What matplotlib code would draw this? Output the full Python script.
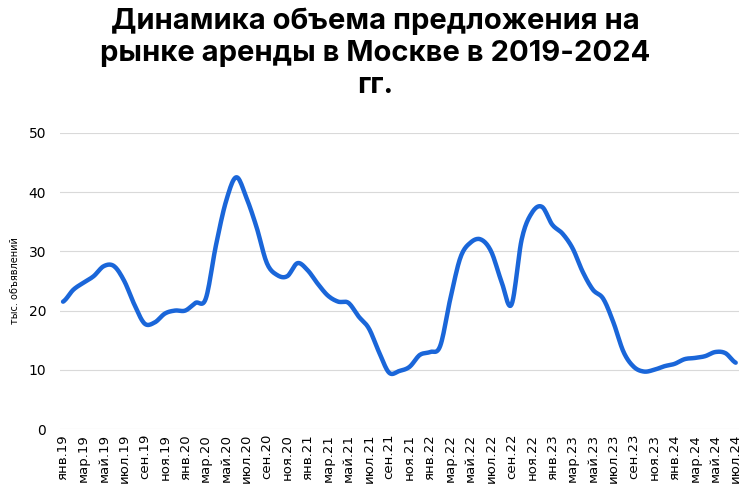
import matplotlib
matplotlib.use("Agg")
import matplotlib.pyplot as plt
import numpy as np

months = ["янв","фев","мар","апр","май","июн","июл","авг","сен","окт","ноя","дек"]
labels = [f"{m}.{y}" for y in range(19,25) for m in months][:67]
values = [21.5,23.5,24.7,25.8,27.5,27.5,25,21,17.8,18,19.5,20,
          20,21.3,22,31,38.5,42.5,39,34,28,26,25.8,28,
          26.8,24.5,22.5,21.5,21.3,19,17,13,9.5,9.8,10.5,12.5,
          13,14,22,29,31.5,32,30,25,21,32,36.5,37.5,
          34.5,33,30.5,26.5,23.5,22,18,13,10.5,9.7,10,10.6,
          11,11.8,12,12.3,13,12.8,11.2]

def smooth(y, n=12):
    y = np.asarray(y, float)
    p = np.concatenate([[y[0]], y, [y[-1]]])
    xs, ys = [], []
    for i in range(len(y)-1):
        p0,p1,p2,p3 = p[i],p[i+1],p[i+2],p[i+3]
        t = np.linspace(0,1,n,endpoint=False)
        ys.append(0.5*((2*p1)+(-p0+p2)*t+(2*p0-5*p1+4*p2-p3)*t**2+(-p0+3*p1-3*p2+p3)*t**3))
        xs.append(i+t)
    xs.append([len(y)-1]); ys.append([y[-1]])
    return np.concatenate(xs), np.concatenate(ys)

fig, ax = plt.subplots(figsize=(7.5,4.92), dpi=100)
fig.subplots_adjust(left=0.08, right=0.985, top=0.73, bottom=0.128)
sx, sy = smooth(values)
ax.plot(sx, sy, color="#1a66d9", lw=3.2, solid_capstyle="round")
ax.set_xlim(-0.3, 66.3)
ax.set_ylim(0, 50)
ax.set_yticks(range(0,51,10))
ax.set_xticks(range(0,67,2))
ax.set_xticklabels(labels[::2], rotation=90, fontsize=9.5)
ax.tick_params(axis='y', labelsize=10, length=0, pad=10)
ax.tick_params(axis='x', length=0)
ax.grid(axis='y', color='#d9d9d9', lw=0.8)
ax.set_axisbelow(True)
for s in ax.spines.values():
    s.set_visible(False)
ax.set_ylabel("тыс. объявлений", fontsize=7, labelpad=6)
fig.suptitle("Динамика объема предложения на\nрынке аренды в Москве в 2019-2024\nгг.",
             fontsize=21, fontweight='bold', family='Inter', y=0.985, linespacing=1.25)
fig.savefig("out.png")
